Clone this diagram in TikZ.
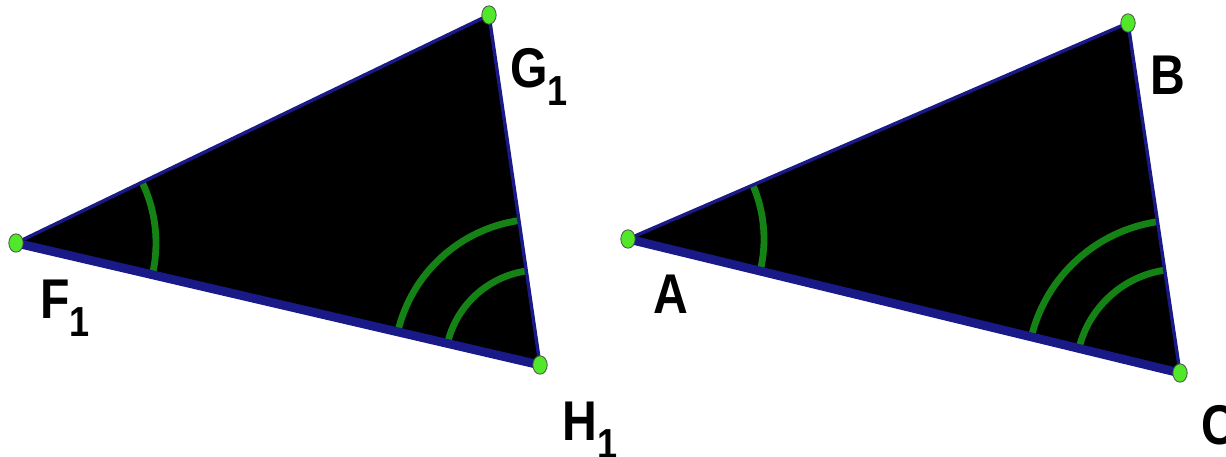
\documentclass[tikz,border=0pt]{standalone}
\usepackage{fontspec}
\setmainfont{Liberation Sans}
\newfontfamily\lblfont[FakeStretch=0.86]{Liberation Sans}
\usetikzlibrary{shapes.geometric}

\definecolor{edgeblue}{RGB}{25,25,135}
\definecolor{arcgreen}{RGB}{20,130,20}
\definecolor{dotgreen}{RGB}{80,232,40}

\newcommand\idx[1]{\raisebox{-9pt}{\fontsize{21pt}{21pt}\selectfont #1}}

\tikzset{
  vertex/.style={ellipse, draw=black!70, line width=0.4pt, fill=dotgreen,
    minimum width=7.2pt, minimum height=9.2pt, inner sep=0pt},
  side/.style={draw=edgeblue, line width=1.7pt, line join=round},
  base/.style={draw=edgeblue, line width=4.4pt, line cap=round},
  angarc/.style={draw=arcgreen, line width=3.4pt},
  lbl/.style={anchor=base west, inner sep=0pt, font=\lblfont\fontsize{28pt}{30pt}\selectfont\bfseries}
}

\begin{document}
\begin{tikzpicture}[x=0.5pt, y=0.5pt]
  \useasboundingbox (0,0) rectangle (1226,456);

  % first triangle
  \coordinate (F1) at (16,213);
  \coordinate (G1) at (489,441);
  \coordinate (H1) at (540,91);
  \fill[black] (F1) -- (G1) -- (H1) -- cycle;
  \draw[angarc] ([shift={(25.7:70pt)}]F1) arc[start angle=25.7, end angle=-13.1, radius=70pt];
  \draw[angarc] ([shift={(166.9:73pt)}]H1) arc[start angle=166.9, end angle=98.3, radius=73pt];
  \draw[angarc] ([shift={(166.9:47.5pt)}]H1) arc[start angle=166.9, end angle=98.3, radius=47.5pt];
  \draw[side] (F1) -- (G1) -- (H1);
  \draw[base] (F1) -- (H1);

  % second triangle
  \coordinate (A) at (628,217);
  \coordinate (B) at (1128,433);
  \coordinate (C) at (1180,83);
  \fill[black] (A) -- (B) -- (C) -- cycle;
  \draw[angarc] ([shift={(23.4:68pt)}]A) arc[start angle=23.4, end angle=-13.65, radius=68pt];
  \draw[angarc] ([shift={(166.35:76.5pt)}]C) arc[start angle=166.35, end angle=98.45, radius=76.5pt];
  \draw[angarc] ([shift={(166.35:52pt)}]C) arc[start angle=166.35, end angle=98.45, radius=52pt];
  \draw[side] (A) -- (B) -- (C);
  \draw[base] (A) -- (C);

  % vertex points
  \foreach \v in {F1,G1,H1,A,B,C}
    \node[vertex] (p\v) at (\v) {};

  % labels
  \node[lbl] (lF1) at (40,138) {F\idx{1}};
  \node[lbl] (lG1) at (510,368) {G\idx{1}};
  \node[lbl] (lH1) at (562,16) {H\idx{1}};
  \node[lbl] (lA) at (653,143) {A};
  \node[lbl] (lB) at (1150,361) {B};
  \node[lbl] (lC) at (1201,12) {C};
\end{tikzpicture}
\end{document}
